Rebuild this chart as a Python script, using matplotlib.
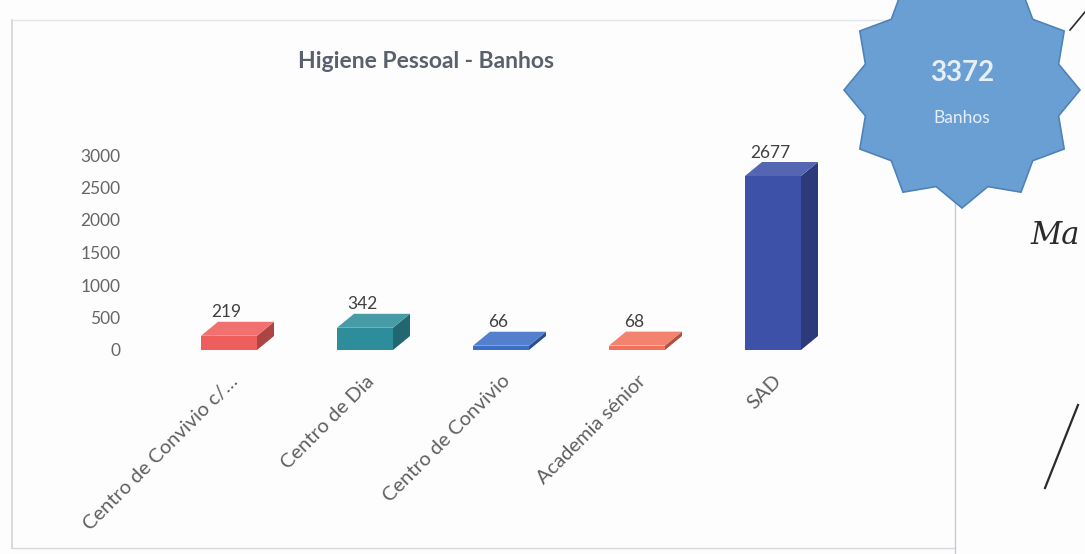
import numpy as np
import matplotlib
matplotlib.use("Agg")
import matplotlib.pyplot as plt
from matplotlib.patches import Polygon, Rectangle
from matplotlib.colors import to_rgb

# data
categories = ["Centro de Convivio c/…", "Centro de Dia", "Centro de Convivio",
              "Academia sénior", "SAD"]
values = [219, 342, 66, 68, 2677]
total_label = "3372"
total_caption = "Banhos"
title = "Higiene Pessoal - Banhos"
yticks = [0, 500, 1000, 1500, 2000, 2500, 3000]

bar_colors = ["#ee5e5d", "#2e8d9b", "#3b6ec6", "#f1715a", "#3d51a8"]


def shade(c, f):
	r, g, b = to_rgb(c)
	if f > 1:
		return tuple(x + (1 - x) * (f - 1) for x in (r, g, b))
	return tuple(x * f for x in (r, g, b))


plt.rcParams['font.family'] = ['Lato', 'DejaVu Sans']

fig = plt.figure(figsize=(10.85, 5.54), dpi=100)
fig.patch.set_facecolor("#fdfdfe")

# page layer in pixel coords (frame, lines)
page = fig.add_axes([0, 0, 1, 1])
page.set_xlim(0, 1085)
page.set_ylim(554, 0)
page.axis("off")
page.plot([12, 12], [20, 548], color="#d2d3d8", lw=1.2)
page.plot([12, 955], [20, 20], color="#e4e5ea", lw=1.0)
page.plot([12, 955], [548, 548], color="#d8d9de", lw=1.0)
page.plot([955, 955], [20, 554], color="#c9cacf", lw=1.0)

page.text(426, 62, title, ha="center", va="center", fontsize=16.5,
          fontweight="bold", color="#5a606c")

# main chart
ax = fig.add_axes([130 / 1085, 1 - 369.5 / 554, 770 / 1085, 240.5 / 554])
ax.set_facecolor("none")
ax.set_xlim(-0.728, 4.934)
ax.set_ylim(-300, 3400)

w = 0.206     # half width of the front face
dx = 0.125    # depth offset x
dy = 215      # depth offset y

for i, (v, c) in enumerate(zip(values, bar_colors)):
	ax.add_patch(Polygon([(i + w, 0), (i + w + dx, dy), (i + w + dx, v + dy), (i + w, v)],
	                     closed=True, fc=shade(c, 0.72), ec="none"))
	ax.add_patch(Rectangle((i - w, 0), 2 * w, v, fc=c, ec="none"))
	ax.add_patch(Polygon([(i - w, v), (i + w, v), (i + w + dx, v + dy), (i - w + dx, v + dy)],
	                     closed=True, fc=shade(c, 1.12), ec="none"))
	ax.text(i - 0.02, v + dy + 20, str(v), ha="center", va="bottom", fontsize=12.5,
	        color="#404040")

ax.set_yticks(yticks)
ax.set_yticklabels([str(t) for t in yticks], fontsize=12.5, color="#666666")
ax.set_xticks(np.arange(len(categories)))
ax.set_xticklabels(categories, rotation=45, ha="right", rotation_mode="anchor",
                   fontsize=14.5, color="#5f5f5f")
ax.tick_params(length=0)
ax.tick_params(axis="y", pad=7)
ax.tick_params(axis="x", pad=2)
for s in ax.spines.values():
	s.set_visible(False)

# star badge with the total, plus scribbles from the page
over = fig.add_axes([0, 0, 1, 1])
over.set_xlim(0, 1085)
over.set_ylim(554, 0)
over.axis("off")
n = 12
ang = np.deg2rad(90 + np.arange(2 * n) * 180 / n)
rad = np.where(np.arange(2 * n) % 2 == 0, 118, 100)
star = np.column_stack([962 + rad * np.cos(ang), 90 + rad * np.sin(ang)])
over.add_patch(Polygon(star, closed=True, fc="#6a9fd3", ec="#4f83b8", lw=1.2))
over.text(962, 73, total_label, ha="center", va="center", fontsize=20,
          fontweight="bold", color="#e6eff9")
over.text(962, 118, total_caption, ha="center", va="center", fontsize=12.5,
          color="#e6eff9")
over.text(1030, 235, "Ma", fontsize=22, style="italic", family="DejaVu Serif",
          color="#2a2a2a", ha="left", va="center")
over.plot([1045, 1078], [488, 405], color="#2a2a2a", lw=1.6)
over.plot([1070, 1085], [30, 12], color="#2a2a2a", lw=1.2)

fig.savefig("out.png", dpi=100, facecolor=fig.get_facecolor())
